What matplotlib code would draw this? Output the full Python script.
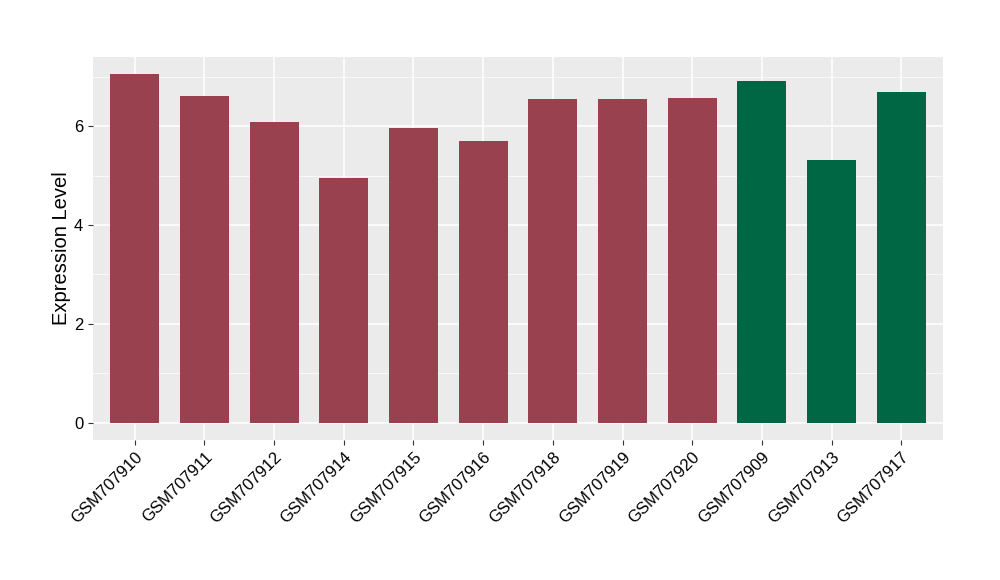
import matplotlib
matplotlib.use('Agg')
import matplotlib.pyplot as plt
from matplotlib.ticker import MultipleLocator

samples = ['GSM707910', 'GSM707911', 'GSM707912', 'GSM707914', 'GSM707915', 'GSM707916',
           'GSM707918', 'GSM707919', 'GSM707920', 'GSM707909', 'GSM707913', 'GSM707917']
values = [7.05, 6.61, 6.08, 4.95, 5.96, 5.70, 6.55, 6.55, 6.57, 6.91, 5.31, 6.69]
groups = ['a'] * 9 + ['b'] * 3
group_colors = {'a': '#99414F', 'b': '#006744'}

plt.rcParams['font.family'] = ['Liberation Sans', 'DejaVu Sans']

fig = plt.figure(figsize=(10, 5.8), dpi=100)
ax = fig.add_axes([0.093, 140 / 580, 0.85, 383 / 580])
ax.set_facecolor('#EBEBEB')

x = list(range(len(samples)))
ax.bar(x, values, width=0.7, color=[group_colors[g] for g in groups], zorder=3)

ymax = max(values)
ax.set_ylim(-0.05 * ymax, ymax * 1.05)
ax.set_xlim(-0.6, len(samples) - 0.4)
ax.yaxis.set_major_locator(MultipleLocator(2))
ax.yaxis.set_minor_locator(MultipleLocator(1))
ax.grid(True, which='major', color='white', linewidth=1.1, zorder=1)
ax.grid(True, which='minor', axis='y', color='white', linewidth=0.5, zorder=1)
ax.set_xticks(x)
ax.set_xticklabels(samples, rotation=45, ha='right', rotation_mode='anchor', fontsize=12)
ax.tick_params(axis='y', labelsize=12)
ax.tick_params(which='major', color='#333333', length=3.5, width=0.8)
ax.tick_params(which='minor', length=0)
for s in ax.spines.values():
    s.set_visible(False)
ax.set_ylabel('Expression Level', fontsize=14.5, labelpad=2)

fig.savefig('out.png', dpi=100)
